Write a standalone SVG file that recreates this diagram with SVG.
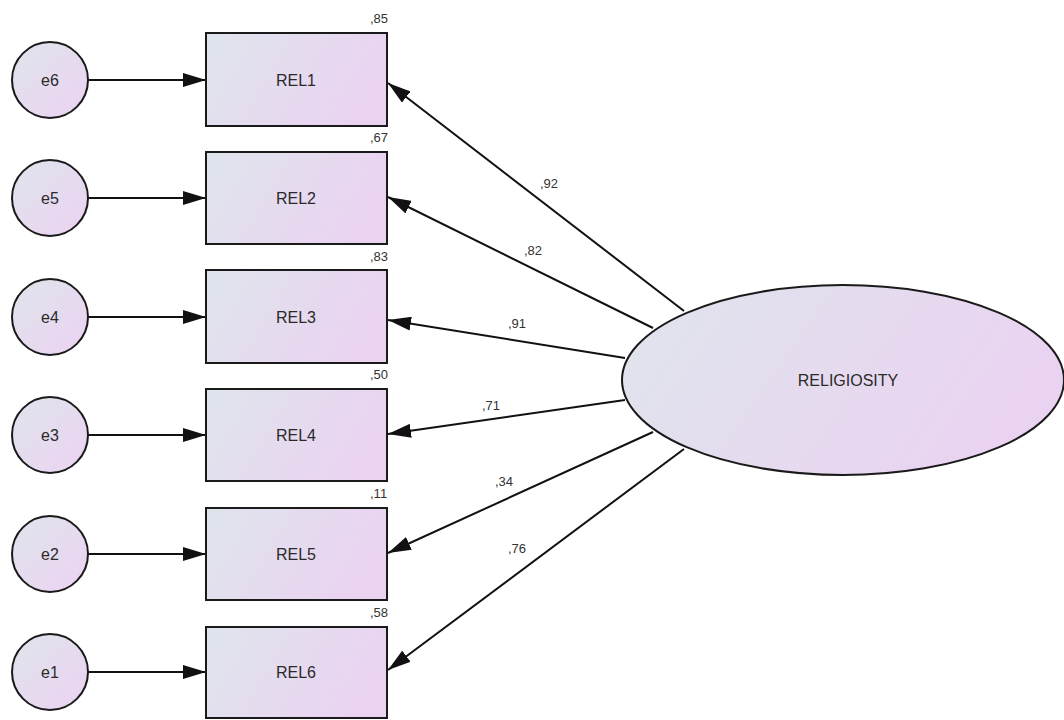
<svg xmlns="http://www.w3.org/2000/svg" width="1064" height="720" viewBox="0 0 1064 720">
<defs>
<linearGradient id="g" x1="0" y1="0" x2="1" y2="0.3">
<stop offset="0" stop-color="#dfe5ec"/>
<stop offset="1" stop-color="#ead3f1"/>
</linearGradient>
<linearGradient id="gc" x1="0" y1="0" x2="1" y2="1">
<stop offset="0" stop-color="#dfe5ec"/>
<stop offset="1" stop-color="#ecd2f2"/>
</linearGradient>
<marker id="ah" markerWidth="23" markerHeight="14" refX="23" refY="7" orient="auto" markerUnits="userSpaceOnUse">
<path d="M0,0 L23,7 L0,14 Z" fill="#111"/>
</marker>
<style>
.n{stroke:#1a1a1a;stroke-width:2}
.t{font-family:"Liberation Sans",Arial,sans-serif;font-size:16px;fill:#2a2a2a;text-anchor:middle;dominant-baseline:central}
.s{font-family:"Liberation Sans",Arial,sans-serif;font-size:13px;fill:#333}
.c{stroke:#111;stroke-width:2;fill:none;marker-end:url(#ah)}
</style>
</defs>
<rect width="1064" height="720" fill="#fff"/>
<g id="connectors">
<line class="c" x1="88" y1="80" x2="206" y2="80"/>
<line class="c" x1="88" y1="198" x2="206" y2="198"/>
<line class="c" x1="88" y1="317" x2="206" y2="317"/>
<line class="c" x1="88" y1="435" x2="206" y2="435"/>
<line class="c" x1="88" y1="554" x2="206" y2="554"/>
<line class="c" x1="88" y1="672" x2="206" y2="672"/>
<line class="c" x1="684" y1="311" x2="388" y2="83"/>
<line class="c" x1="653" y1="328" x2="388" y2="197"/>
<line class="c" x1="625" y1="358" x2="388" y2="320"/>
<line class="c" x1="625" y1="400" x2="388" y2="434"/>
<line class="c" x1="653" y1="432" x2="388" y2="553"/>
<line class="c" x1="684" y1="449" x2="388" y2="670"/>
<text class="s" x="540" y="188">,92</text>
<text class="s" x="524" y="255">,82</text>
<text class="s" x="508" y="328">,91</text>
<text class="s" x="482" y="410">,71</text>
<text class="s" x="495" y="486">,34</text>
<text class="s" x="508" y="553">,76</text>
</g>
<g id="RELIGIOSITY">
<ellipse class="n" cx="843" cy="380" rx="221" ry="95" fill="url(#g)"/>
<text class="t" x="848" y="380">RELIGIOSITY</text>
</g>
<g id="REL1"><rect class="n" x="206" y="33" width="181" height="93" fill="url(#g)"/><text class="t" x="296" y="80">REL1</text><text class="s" x="370" y="23">,85</text></g>
<g id="REL2"><rect class="n" x="206" y="152" width="181" height="92" fill="url(#g)"/><text class="t" x="296" y="198">REL2</text><text class="s" x="370" y="142">,67</text></g>
<g id="REL3"><rect class="n" x="206" y="270" width="181" height="93" fill="url(#g)"/><text class="t" x="296" y="317">REL3</text><text class="s" x="370" y="261">,83</text></g>
<g id="REL4"><rect class="n" x="206" y="389" width="181" height="92" fill="url(#g)"/><text class="t" x="296" y="435">REL4</text><text class="s" x="370" y="379">,50</text></g>
<g id="REL5"><rect class="n" x="206" y="508" width="181" height="92" fill="url(#g)"/><text class="t" x="296" y="554">REL5</text><text class="s" x="370" y="498">,11</text></g>
<g id="REL6"><rect class="n" x="206" y="627" width="181" height="91" fill="url(#g)"/><text class="t" x="296" y="672">REL6</text><text class="s" x="370" y="617">,58</text></g>
<g id="e6"><circle class="n" cx="50" cy="80" r="38" fill="url(#gc)"/><text class="t" x="50" y="80">e6</text></g>
<g id="e5"><circle class="n" cx="50" cy="198" r="38" fill="url(#gc)"/><text class="t" x="50" y="198">e5</text></g>
<g id="e4"><circle class="n" cx="50" cy="317" r="38" fill="url(#gc)"/><text class="t" x="50" y="317">e4</text></g>
<g id="e3"><circle class="n" cx="50" cy="435" r="38" fill="url(#gc)"/><text class="t" x="50" y="435">e3</text></g>
<g id="e2"><circle class="n" cx="50" cy="554" r="38" fill="url(#gc)"/><text class="t" x="50" y="554">e2</text></g>
<g id="e1"><circle class="n" cx="50" cy="672" r="38" fill="url(#gc)"/><text class="t" x="50" y="672">e1</text></g>
</svg>
